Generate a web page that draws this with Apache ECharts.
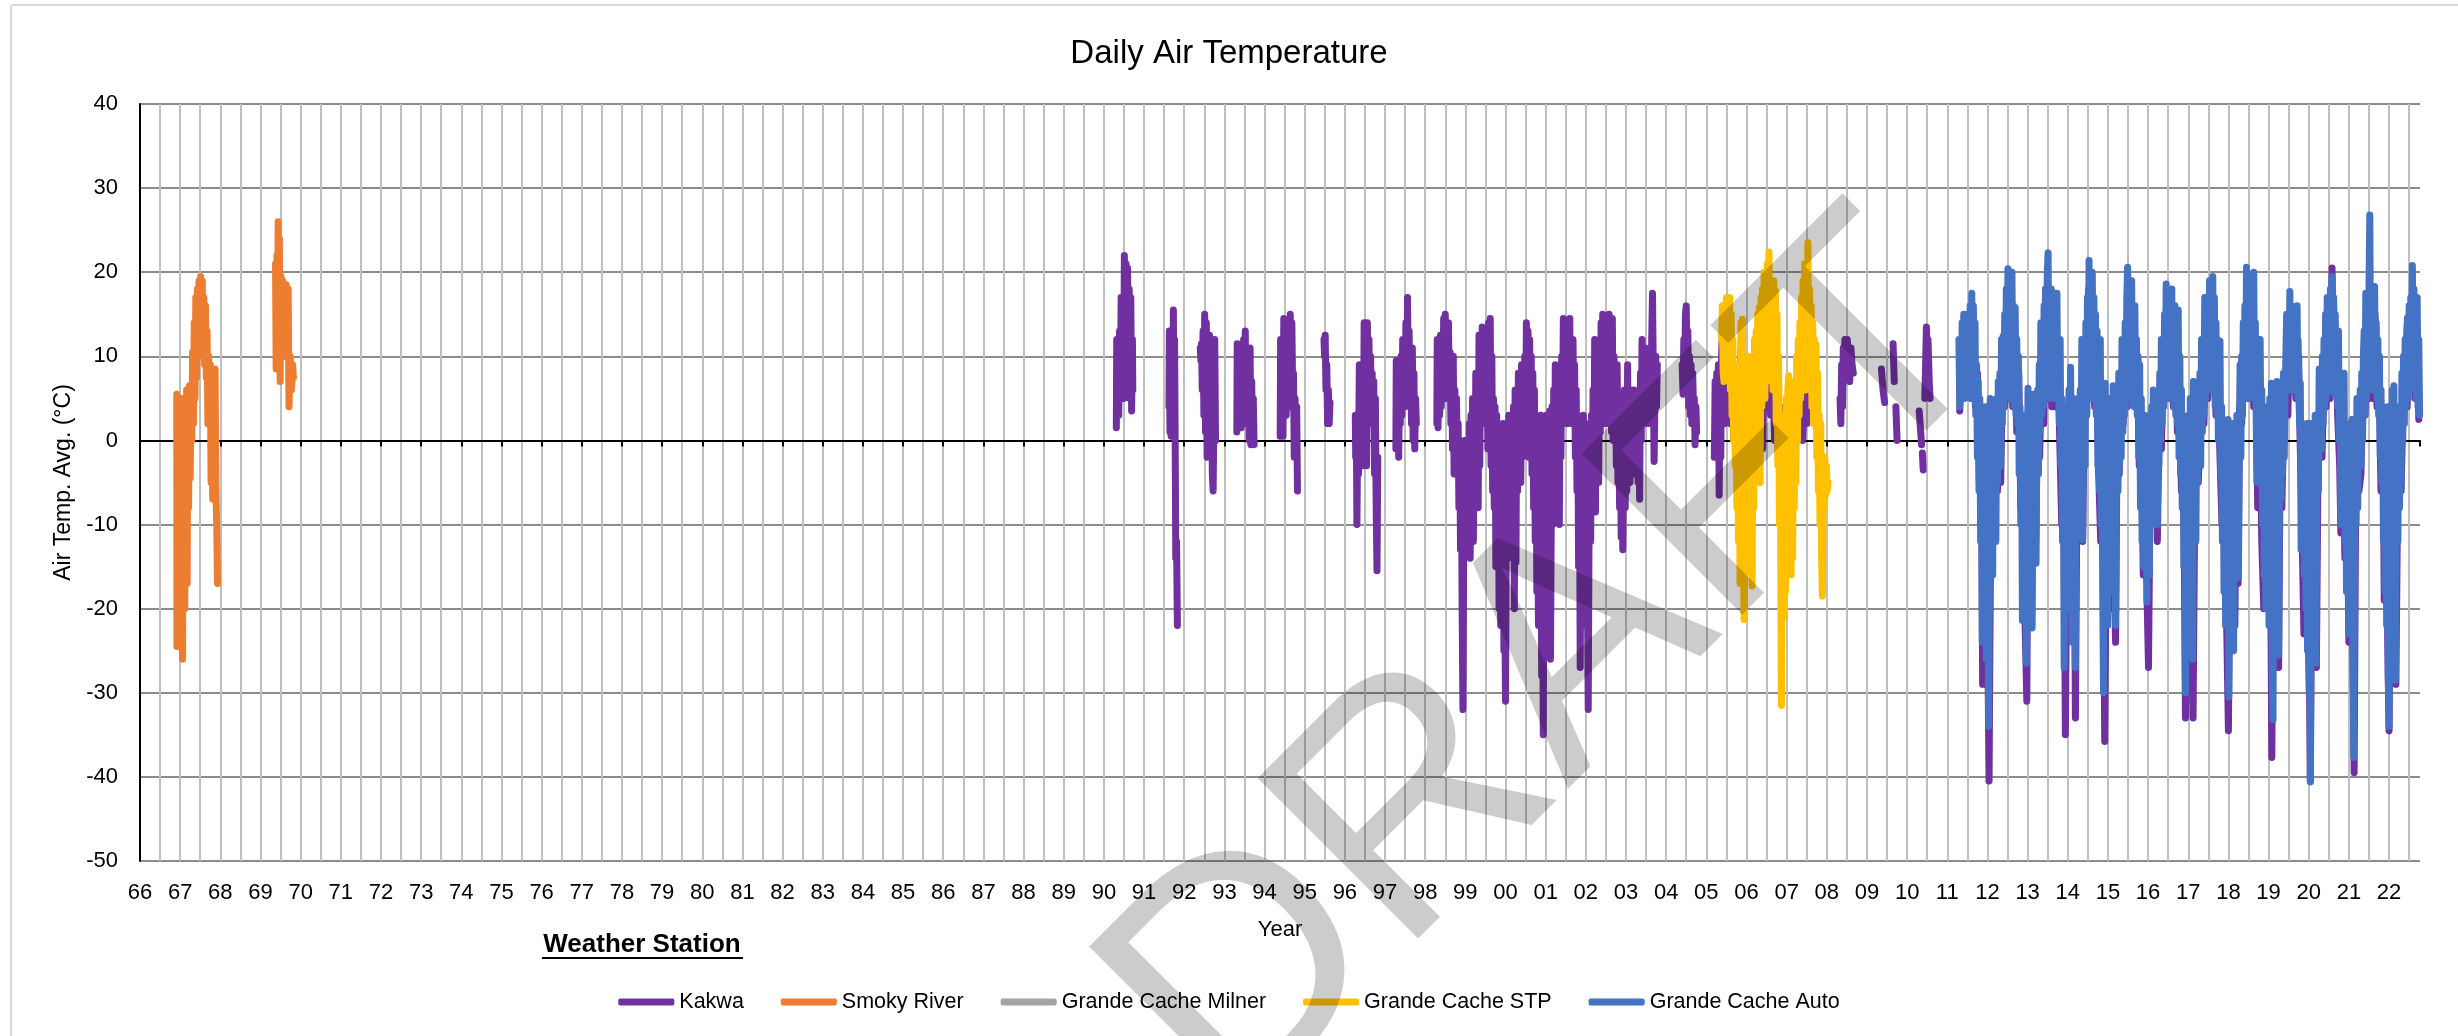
<!DOCTYPE html>
<html><head><meta charset="utf-8">
<script src="https://cdn.jsdelivr.net/npm/echarts@6.0.0/dist/echarts.min.js"></script>
<style>html,body{margin:0;padding:0;background:#fff}#c{width:2458px;height:1036px}</style>
</head><body><div id="c"></div>
<script>
// ---------------- DATA (decimal year, daily air temperature °C) ----------------
const stations = ['Kakwa', 'Smoky River', 'Grande Cache Milner', 'Grande Cache STP', 'Grande Cache Auto'];
const yearMin = 1966, yearMax = 2022.77;
const tempMin = -50, tempMax = 40, tempStep = 10;

const smokyRiver = [
[1966.915,5.5],[1966.92,-24.5],[1966.93,3],[1966.94,-18],[1966.95,5],[1966.96,-22],[1966.975,2],[1966.99,-14],[1967.0,4.5],[1967.02,-20],[1967.035,5],[1967.05,-24],[1967.06,-26],[1967.075,3],[1967.09,-15],[1967.1,5],[1967.115,-20],[1967.13,4],[1967.145,-10],[1967.16,6],[1967.175,-17],[1967.19,5],[1967.21,-8],[1967.23,6.5],[1967.25,-4.5],[1967.27,6],[1967.29,0],[1967.31,10.5],[1967.33,2],[1967.35,14],[1967.37,5],[1967.39,17],[1967.41,7.5],[1967.43,18],[1967.45,10],[1967.47,19],[1967.49,11],[1967.51,19.5],[1967.53,12],[1967.55,19],[1967.57,10],[1967.59,17],[1967.61,9],[1967.63,16],[1967.65,7.5],[1967.67,13],[1967.69,2],[1967.71,10],[1967.73,2],[1967.75,9],[1967.77,-5],[1967.79,6],[1967.81,-7],[1967.83,8],[1967.85,-3],[1967.87,8.5],[1967.89,-6],[1967.91,-10],[1967.93,-17],
[1968.5,'-'],
[1969.375,21],[1969.39,8.5],[1969.41,22],[1969.425,12],[1969.44,26],[1969.455,9],[1969.47,24],[1969.49,7],[1969.51,19.5],[1969.53,12],[1969.55,19],[1969.57,10],[1969.59,17],[1969.61,12],[1969.64,18.5],[1969.67,10],[1969.69,18],[1969.71,4],[1969.74,10],[1969.77,6],[1969.8,9],[1969.82,7.5]
];

const kakwa = [
[1990.31,1.5],[1990.32,12],[1990.335,4],[1990.35,11],[1990.37,3],[1990.39,13],[1990.41,5],[1990.43,17],[1990.45,6],[1990.47,15],[1990.49,5],[1990.51,22],[1990.53,7],[1990.55,21],[1990.57,6],[1990.59,20.5],[1990.61,8],[1990.63,18],[1990.65,5],[1990.67,17],[1990.69,3.5],[1990.71,12],[1990.72,6],
[1991,'-'],
[1991.62,4],[1991.63,13],[1991.645,1],[1991.66,12],[1991.675,0.5],[1991.69,9],[1991.71,2],[1991.73,15.5],[1991.745,4],[1991.76,12],[1991.775,0],[1991.79,-14],[1991.81,-12],[1991.83,-22],
[1992,'-'],
[1992.4,11],[1992.415,9.5],[1992.43,11.5],[1992.45,6],[1992.47,13],[1992.49,3],[1992.51,15],[1992.53,1],[1992.55,14],[1992.57,-2],[1992.59,12],[1992.61,0],[1992.63,12.5],[1992.66,-2],[1992.68,11],[1992.7,-4],[1992.72,-6],[1992.74,3],[1992.76,12],[1992.78,0],
[1993,'-'],
[1993.31,1],[1993.32,11.5],[1993.34,2],[1993.36,11],[1993.38,3],[1993.4,10],[1993.42,1.5],[1993.44,9],[1993.46,3],[1993.48,12],[1993.5,2],[1993.52,13],[1993.54,4],[1993.56,11],[1993.58,2],[1993.6,9],[1993.62,0],[1993.64,11],[1993.66,-0.5],[1993.68,7],[1993.7,1],[1993.72,5],[1993.74,-0.5],
[1994,'-'],
[1994.39,0.5],[1994.4,12],[1994.42,2],[1994.44,10],[1994.46,0.5],[1994.48,14.5],[1994.5,5],[1994.52,13],[1994.54,3],[1994.56,14],[1994.58,5],[1994.6,10],[1994.62,6],[1994.64,15],[1994.66,4],[1994.68,14],[1994.7,6],[1994.72,8],[1994.74,-2],[1994.76,5],[1994.78,-1],[1994.8,4],[1994.82,-6],
[1995,'-'],
[1995.48,12],[1995.495,10],[1995.51,12.5],[1995.53,6],[1995.55,9],[1995.57,2],[1995.59,6],[1995.61,2],[1995.63,4.5],
[1996,'-'],
[1996.26,3],[1996.27,-2],[1996.285,2],[1996.3,-10],[1996.32,1],[1996.34,-4],[1996.36,9],[1996.38,-2],[1996.4,6],[1996.42,0],[1996.44,9],[1996.46,-3],[1996.48,14],[1996.5,2],[1996.52,12],[1996.54,-3],[1996.56,14],[1996.58,4],[1996.6,12],[1996.62,2],[1996.64,10],[1996.66,3],[1996.68,8],[1996.7,2],[1996.72,7],[1996.74,-4],[1996.76,5],[1996.78,-8],[1996.8,-15.5],[1996.82,-2],
[1997,'-'],
[1997.27,-1],[1997.28,9.5],[1997.3,0],[1997.32,8],[1997.34,-2],[1997.36,6],[1997.38,2],[1997.4,10],[1997.42,3],[1997.44,12],[1997.46,5],[1997.48,11],[1997.5,4],[1997.52,14],[1997.54,5],[1997.56,17],[1997.58,6],[1997.6,13],[1997.62,4],[1997.64,9],[1997.66,2],[1997.68,11],[1997.7,0],[1997.72,8],[1997.74,-1],[1997.76,5],[1997.78,2],
[1998,'-'],
[1998.29,2],[1998.3,12],[1998.32,1.5],[1998.34,10],[1998.36,3],[1998.38,12.5],[1998.4,4],[1998.42,11],[1998.44,5],[1998.46,14.5],[1998.48,6],[1998.5,15],[1998.52,5],[1998.54,13],[1998.56,7],[1998.58,14],[1998.6,5],[1998.62,10.5],[1998.64,2],[1998.66,9],[1998.68,-1],[1998.7,10],[1998.72,-4],[1998.74,6],[1998.76,-2],[1998.78,5],[1998.8,-4],[1998.82,2],[1998.84,-8],[1998.86,0],[1998.88,-13],[1998.9,-2],[1998.92,-20],[1998.94,-32],[1998.96,-12],[1998.98,0],[1999.0,-10],[1999.02,-3],[1999.04,-13],[1999.06,-1],[1999.08,-9],[1999.1,2],[1999.12,-14],[1999.14,3],[1999.16,-10],[1999.18,5],[1999.2,-12],[1999.22,2],[1999.24,-8],[1999.26,8],[1999.28,-6],[1999.3,4],[1999.32,-8],[1999.34,12.5],[1999.36,-3],[1999.38,10],[1999.4,2],[1999.42,13.5],[1999.44,3],[1999.46,12],[1999.48,2],[1999.5,13],[1999.52,4],[1999.54,11],[1999.56,-1],[1999.58,14],[1999.6,1],[1999.62,14.5],[1999.64,-3],[1999.66,10],[1999.68,-6],[1999.7,5],[1999.72,-8],[1999.74,4],[1999.76,-15],[1999.78,3],[1999.8,-10],[1999.82,2],[1999.84,-20],[1999.86,-2],[1999.88,-22],[1999.9,0],[1999.92,-14],[1999.94,2],[1999.96,-25],[1999.98,-18],[2000.0,-31],[2000.02,-10],[2000.04,1],[2000.06,-14],[2000.08,3],[2000.1,-12],[2000.12,2],[2000.14,-8],[2000.16,3],[2000.18,-10],[2000.2,4],[2000.22,-20],[2000.24,6],[2000.26,-14.5],[2000.28,5],[2000.3,-6],[2000.32,8],[2000.34,-3],[2000.36,7],[2000.38,-5],[2000.4,9],[2000.42,-2],[2000.44,8],[2000.46,0],[2000.48,10],[2000.5,-1],[2000.52,14],[2000.54,2],[2000.56,13],[2000.58,-2],[2000.6,12],[2000.62,1],[2000.64,10],[2000.66,-4],[2000.68,8],[2000.7,-8],[2000.72,6],[2000.74,-12],[2000.76,3],[2000.78,-18],[2000.8,2],[2000.82,-22],[2000.84,0],[2000.86,-15],[2000.88,3],[2000.9,-28],[2000.92,-10],[2000.94,-35],[2000.96,-5],[2000.98,2],[2001.0,-20],[2001.02,3],[2001.04,-12],[2001.06,1],[2001.08,-18],[2001.1,3.5],[2001.12,-26],[2001.14,-8],[2001.16,4],[2001.18,-10],[2001.2,6],[2001.22,-6],[2001.24,9],[2001.26,-8],[2001.28,7],[2001.3,-4],[2001.32,8],[2001.34,-10],[2001.36,6],[2001.38,-2],[2001.4,10],[2001.42,2],[2001.44,14.5],[2001.46,3],[2001.48,12],[2001.5,4],[2001.52,14],[2001.54,2],[2001.56,13],[2001.58,5],[2001.6,14.5],[2001.62,3],[2001.64,11],[2001.66,2],[2001.68,12],[2001.7,4],[2001.72,9],[2001.74,-2],[2001.76,6],[2001.78,-6],[2001.8,3],[2001.82,-15],[2001.84,0],[2001.86,-27],[2001.88,-5],[2001.9,2],[2001.92,-20],[2001.94,3],[2001.96,-12],[2001.98,1],[2002.0,-22],[2002.02,-2],[2002.04,-18],[2002.06,-32],[2002.08,-10],[2002.1,2],[2002.12,-12],[2002.14,3],[2002.16,-8],[2002.18,6],[2002.2,-5],[2002.22,12],[2002.24,-8.5],[2002.26,10],[2002.28,-3],[2002.3,8],[2002.32,-5],[2002.34,12],[2002.36,1],[2002.38,14],[2002.4,3],[2002.42,15],[2002.44,2],[2002.46,12],[2002.48,4],[2002.5,14],[2002.52,2],[2002.54,13],[2002.56,5],[2002.58,15],[2002.6,3],[2002.62,12],[2002.64,1],[2002.66,14.5],[2002.68,0],[2002.7,10],[2002.72,2],[2002.74,8],[2002.76,-3],[2002.78,9],[2002.8,-5],[2002.82,5],[2002.84,-8],[2002.86,3],[2002.88,-11.5],[2002.9,0],[2002.92,-13],[2002.94,-2],[2002.96,6],[2002.98,-8],[2003.0,4],[2003.02,-6],[2003.04,9],[2003.06,-3],[2003.08,5],[2003.1,-5],[2003.12,6],[2003.14,-2],[2003.16,4],[2003.18,-4],[2003.2,6],[2003.22,0],[2003.24,5],[2003.26,-3],[2003.28,4],[2003.3,-5],[2003.32,2],[2003.34,-7],[2003.36,8],[2003.38,0],[2003.4,12],[2003.42,2],[2003.44,11],[2003.46,3],[2003.48,11],[2003.5,4],[2003.52,8],[2003.54,2],[2003.56,10],[2003.58,3],[2003.6,9],[2003.62,4],[2003.64,12],[2003.66,17.5],[2003.68,8],[2003.7,-2.5],[2003.72,5],[2003.74,10],[2003.76,4],[2003.78,9],
[2004,'-'],
[2004.4,9],[2004.42,5.5],[2004.44,12],[2004.46,6],[2004.48,15],[2004.5,16],[2004.52,8],[2004.54,13],[2004.56,4],[2004.58,10],[2004.6,3],[2004.62,9],[2004.64,2],[2004.66,8],[2004.68,4],[2004.7,5],[2004.72,-0.5],[2004.74,4],[2004.76,1],
[2005,'-'],
[2005.2,-2],[2005.22,7],[2005.24,-1],[2005.26,8],[2005.28,0],[2005.3,9],[2005.32,-6.5],[2005.34,4],[2005.36,-2],[2005.38,10],[2005.4,13],[2005.42,5],[2005.44,9],[2005.46,2],[2005.48,8],[2005.52,3],[2005.56,10],[2005.6,2],[2005.64,11],[2005.68,0],[2005.72,8],[2005.76,-2],[2005.8,6],[2005.84,-4],[2005.86,11],[2005.9,-5],[2005.95,4],[2006.0,-8],[2006.05,3],[2006.1,-6],[2006.15,5],[2006.2,-3],[2006.25,8],[2006.3,2],[2006.36,12],[2006.4,-1],[2006.45,10],[2006.5,4],[2006.55,12],[2006.6,3],[2006.65,10],[2006.7,0],[2006.75,6],[2006.8,-3],[2006.85,4],[2006.9,-5],[2006.95,2],[2007.0,-4],[2007.05,3],[2007.1,-2],[2007.15,4],[2007.2,-1],[2007.25,6],[2007.3,1],[2007.35,7],[2007.4,0],[2007.45,6],[2007.5,2],[2007.55,8],[2007.6,3],[2007.63,8],
[2008,'-'],
[2008.33,5],[2008.35,2],[2008.37,9],[2008.39,4],[2008.41,11],[2008.43,8],[2008.45,12],[2008.48,9],[2008.51,12],[2008.54,10],[2008.57,7],[2008.6,11],[2008.63,9],[2008.66,8],
[2009,'-'],
[2009.36,8.5],[2009.4,6],[2009.44,4.5],
[2009.5,'-'],
[2009.65,11.5],[2009.68,7],
[2009.7,'-'],
[2009.72,4],[2009.75,0],
[2010,'-'],
[2010.3,3.5],[2010.33,1.5],[2010.36,-0.5],
[2010.37,'-'],
[2010.38,-1.5],[2010.4,-3.5],
[2010.42,'-'],
[2010.44,5],[2010.46,9],[2010.48,13.5],[2010.5,10],[2010.52,12],[2010.55,7],[2010.57,5],
[2011,'-'],
[2011.31,3.5],[2011.35,10],[2011.4,5],[2011.45,14],[2011.5,6],[2011.55,15],[2011.6,5],[2011.65,14],[2011.7,4],[2011.75,8],[2011.8,-5],[2011.85,3],[2011.88,-29],[2011.92,-3],[2011.96,2],[2012.0,-20],[2012.04,-40.5],[2012.08,-10],[2012.12,2],[2012.16,-12],[2012.2,3],[2012.25,-6],[2012.3,6],[2012.33,-5],[2012.38,10],[2012.43,4],[2012.48,17],[2012.53,5],[2012.58,18],[2012.63,4],[2012.68,14],[2012.73,1],[2012.78,8],[2012.83,-8],[2012.88,2],[2012.92,-18],[2012.98,-31],[2013.02,4],[2013.06,-15],[2013.1,-22],[2013.15,4],[2013.2,-12],[2013.25,3],[2013.3,-2],[2013.35,12],[2013.4,2],[2013.45,18],[2013.5,5],[2013.55,16],[2013.6,4],[2013.65,15],[2013.7,4],[2013.75,12],[2013.8,0],[2013.85,-10],[2013.9,0],[2013.94,-35],[2013.98,-10],[2014.02,4],[2014.06,-20],[2014.1,-12],[2014.15,2],[2014.19,-33],[2014.23,-5],[2014.27,3],[2014.32,-6],[2014.37,-12],[2014.42,8],[2014.47,3],[2014.52,18],[2014.57,5],[2014.62,17],[2014.67,4],[2014.72,10],[2014.77,-4],[2014.82,-12],[2014.87,0],[2014.92,-35.8],[2014.96,-10],[2015.0,3],[2015.05,-20],[2015.1,2],[2015.15,-15],[2015.19,-24],[2015.23,2],[2015.28,-4],[2015.33,8],[2015.38,2],[2015.43,12],[2015.48,4],[2015.53,17],[2015.58,5],[2015.63,15],[2015.68,4],[2015.73,10],[2015.78,-3],[2015.83,2],[2015.88,-16],[2015.93,0],[2015.98,-20],[2016.01,-27],[2016.05,-5],[2016.1,2],[2016.15,-8],[2016.2,2],[2016.23,-12],[2016.28,3],[2016.33,-1],[2016.38,10],[2016.43,5],[2016.48,15],[2016.53,5],[2016.58,16],[2016.63,4],[2016.68,13],[2016.73,1],[2016.78,6],[2016.83,-6],[2016.88,2],[2016.93,-33],[2016.97,-5],[2017.02,2],[2017.07,-20],[2017.12,-33],[2017.16,-8],[2017.2,2],[2017.25,-5],[2017.29,-5],[2017.34,8],[2017.39,2],[2017.44,14],[2017.49,5],[2017.54,16],[2017.59,6],[2017.64,15],[2017.69,3],[2017.74,8],[2017.79,-2],[2017.84,-10],[2017.9,0],[2017.95,-20],[2018.0,-34.5],[2018.04,-8],[2018.08,-20],[2018.12,0],[2018.16,-22],[2018.2,1],[2018.24,-17],[2018.28,4],[2018.33,2],[2018.38,12],[2018.43,5],[2018.48,17],[2018.53,5],[2018.58,16],[2018.63,4],[2018.68,10],[2018.73,-8],[2018.78,6],[2018.83,-12],[2018.88,-20],[2018.93,0],[2018.98,-15],[2019.03,2],[2019.08,-37.7],[2019.12,-12],[2019.17,2],[2019.21,-22],[2019.25,-27],[2019.29,0],[2019.33,-8],[2019.38,4],[2019.43,8],[2019.48,3],[2019.53,15],[2019.58,6],[2019.63,13],[2019.68,5],[2019.73,12],[2019.78,1],[2019.83,-10],[2019.88,-23],[2019.92,-2],[2019.97,-20],[2020.02,-30],[2020.04,-40.5],[2020.08,-10],[2020.12,0],[2020.16,-15],[2020.19,-27],[2020.23,-3],[2020.28,2],[2020.33,-2],[2020.38,8],[2020.43,4],[2020.48,15],[2020.53,5],[2020.58,20.5],[2020.62,6],[2020.67,13],[2020.72,3],[2020.77,-3],[2020.8,-11],[2020.85,2],[2020.9,-14],[2020.95,-5],[2021.0,-24],[2021.05,0],[2021.09,-18],[2021.13,-39.5],[2021.17,-5],[2021.21,2],[2021.25,-6],[2021.3,-4],[2021.35,8],[2021.4,3],[2021.45,14],[2021.5,5],[2021.55,15],[2021.6,5],[2021.65,15],[2021.7,4],[2021.75,8],[2021.8,-6],[2021.85,2],[2021.88,-19],[2021.93,-5],[2021.97,-25],[2022.0,-34.5],[2022.04,-5],[2022.09,-18],[2022.13,2],[2022.17,-29],[2022.21,-8],[2022.26,2],[2022.3,-6],[2022.35,5],[2022.4,8],[2022.45,4],[2022.5,13],[2022.55,6],[2022.6,15],[2022.65,5],[2022.7,12],[2022.74,2.5]
];

const grandeCacheMilner = [];

const grandeCacheSTP = [
[2005.38,12],[2005.4,16],[2005.42,8],[2005.44,7],[2005.46,15],[2005.48,10],[2005.5,17],[2005.52,12],[2005.54,17],[2005.56,9],[2005.58,17],[2005.6,6],[2005.62,15],[2005.64,3],[2005.66,12],[2005.68,0],[2005.7,9],[2005.72,-3],[2005.74,6],[2005.76,-8],[2005.78,6],[2005.8,-12],[2005.82,3],[2005.84,-17],[2005.86,14],[2005.88,-5],[2005.9,14.4],[2005.92,-10],[2005.94,-21.3],[2005.96,2],[2005.98,-12],[2006.0,5],[2006.02,-15.7],[2006.04,10],[2006.06,-6],[2006.08,8],[2006.1,-10],[2006.12,4],[2006.14,-17.3],[2006.16,2],[2006.18,-8],[2006.2,12],[2006.22,-3],[2006.24,13],[2006.26,0],[2006.28,15],[2006.3,4],[2006.32,15.8],[2006.34,-5],[2006.36,17],[2006.38,4],[2006.4,18],[2006.42,6],[2006.44,20],[2006.46,5],[2006.48,19],[2006.5,7],[2006.52,21],[2006.54,8],[2006.56,22.4],[2006.58,9],[2006.6,19],[2006.62,8],[2006.64,18],[2006.66,6],[2006.68,19],[2006.7,8],[2006.72,17.8],[2006.74,2],[2006.76,15],[2006.78,-3],[2006.8,10],[2006.82,-10],[2006.84,3],[2006.86,-21],[2006.87,-31.5],[2006.89,-8],[2006.91,3],[2006.93,-21],[2006.95,0],[2006.97,-18],[2006.99,5],[2007.01,-12],[2007.03,6],[2007.05,7.7],[2007.07,-10],[2007.09,2],[2007.11,-16],[2007.13,4],[2007.15,-14],[2007.17,7],[2007.19,-8],[2007.21,4],[2007.23,-5],[2007.25,10],[2007.27,0],[2007.29,12],[2007.31,3],[2007.33,14],[2007.35,5],[2007.37,17],[2007.39,6],[2007.41,19],[2007.43,7],[2007.45,21],[2007.47,6],[2007.49,19],[2007.51,9],[2007.53,23.5],[2007.55,10],[2007.57,18],[2007.59,6],[2007.61,16],[2007.63,4],[2007.65,14],[2007.67,2],[2007.69,12],[2007.71,3],[2007.73,11.4],[2007.75,-2],[2007.77,8],[2007.79,-6],[2007.81,3],[2007.83,-10],[2007.85,2],[2007.87,-14],[2007.89,-18.5],[2007.91,-4],[2007.93,-8],[2007.95,-2],[2007.97,-6.5],[2007.99,-3],[2008.01,-6],[2008.03,-5]
];

const grandeCacheAuto = [
[2011.29,12],[2011.31,4],[2011.33,11],[2011.35,5],[2011.37,14],[2011.39,6],[2011.41,15],[2011.43,5],[2011.45,13],[2011.47,7],[2011.49,15],[2011.51,6],[2011.53,14],[2011.55,7],[2011.57,16],[2011.59,5],[2011.61,17.5],[2011.63,8],[2011.65,16],[2011.67,5],[2011.69,14],[2011.71,3],[2011.73,9],[2011.75,-2],[2011.77,7],[2011.79,-6],[2011.81,5],[2011.83,-12],[2011.85,2],[2011.87,-24],[2011.89,-5],[2011.91,3],[2011.93,-18],[2011.95,4],[2011.97,-26],[2011.99,-8],[2012.01,2],[2012.03,-34],[2012.05,-15],[2012.07,5],[2012.09,-12],[2012.11,3],[2012.13,-16],[2012.15,2],[2012.17,-8],[2012.19,4],[2012.21,-12],[2012.23,5],[2012.25,-5],[2012.27,7],[2012.29,-3],[2012.31,8],[2012.33,-3],
[2012.35,12],[2012.37,2],[2012.39,12.4],[2012.41,4],[2012.43,15],[2012.45,5],[2012.47,18],[2012.49,6],[2012.51,20.4],[2012.53,7],[2012.55,19],[2012.57,5],[2012.59,18],[2012.61,20],[2012.63,6],[2012.65,16],[2012.67,4],[2012.69,15.8],[2012.71,3],[2012.73,12],[2012.75,2],[2012.77,10],[2012.79,-4],[2012.81,4],[2012.83,-10],[2012.85,2],[2012.87,-21.4],[2012.89,-3],[2012.91,3],[2012.93,-15],[2012.95,1],[2012.97,-26.5],[2012.99,-8],[2013.01,6.2],[2013.03,-12],[2013.05,3],[2013.07,-18],[2013.09,4],[2013.11,-22.3],[2013.13,-5],[2013.15,5.5],[2013.17,-8],[2013.19,3],[2013.21,-14.6],[2013.23,0],[2013.25,6],[2013.27,-4],[2013.29,9],
[2013.31,1],[2013.33,14],[2013.35,3],[2013.37,12],[2013.39,4],[2013.41,16],[2013.43,5],[2013.45,18],[2013.47,6],[2013.49,20],[2013.51,22.3],[2013.53,7],[2013.55,17],[2013.57,5],[2013.59,18],[2013.61,6],[2013.63,15],[2013.65,5],[2013.67,16],[2013.69,7],[2013.71,14],[2013.73,17.5],[2013.75,5],[2013.77,10],[2013.79,2],[2013.81,12],[2013.83,-3],[2013.85,5],[2013.87,-12],[2013.89,-3],[2013.91,-27],[2013.93,-10],[2013.95,2],[2013.97,-18],[2013.99,4],[2014.01,-20],[2014.03,6],[2014.05,-12],[2014.07,8.7],[2014.09,-8],[2014.11,-24],[2014.13,-2],[2014.15,5],[2014.17,-15],[2014.19,-27],[2014.21,2],[2014.23,-10],[2014.25,3],[2014.27,5],[2014.29,-8],
[2014.31,6],[2014.33,-4],[2014.35,12],[2014.37,-11.8],[2014.39,2],[2014.41,10],[2014.43,-3],[2014.45,14],[2014.47,3],[2014.49,17],[2014.51,5],[2014.53,21.4],[2014.55,6],[2014.57,18],[2014.59,5],[2014.61,20],[2014.63,6],[2014.65,17],[2014.67,5],[2014.69,15],[2014.71,3],[2014.73,13],[2014.75,-3],[2014.77,9],[2014.79,-6],[2014.81,12],[2014.83,-10],[2014.85,3],[2014.87,-18],[2014.89,-30],[2014.91,-5],[2014.93,6.8],[2014.95,-15],[2014.97,2],[2014.99,-22],[2015.01,4],[2015.03,-12],[2015.05,5],[2015.07,-18],[2015.09,3],[2015.11,-10],[2015.13,6.5],[2015.15,-8],[2015.17,2],[2015.19,-22],[2015.21,-5],[2015.23,4],[2015.25,-6],[2015.27,8],[2015.29,-3],
[2015.31,6],[2015.33,-2],[2015.35,12],[2015.37,1],[2015.39,10],[2015.41,3],[2015.43,14],[2015.45,4],[2015.47,17],[2015.49,20.6],[2015.51,6],[2015.53,18],[2015.55,5],[2015.57,17],[2015.59,19],[2015.61,6],[2015.63,15],[2015.65,4],[2015.67,16],[2015.69,5],[2015.71,12],[2015.73,3],[2015.75,10],[2015.77,-2],[2015.79,9],[2015.81,-8],[2015.83,5],[2015.85,-12],[2015.87,2],[2015.89,-15],[2015.91,3],[2015.93,-10],[2015.95,1],[2015.97,-19.2],[2015.99,-6],[2016.01,2],[2016.03,-16],[2016.05,3],[2016.07,-10],[2016.09,4],[2016.11,-6],[2016.13,6],[2016.15,-8],[2016.17,3],[2016.19,-5],[2016.21,4],[2016.23,-10],[2016.25,2],[2016.27,-3],[2016.29,8],
[2016.31,0],[2016.33,12],[2016.35,2],[2016.37,10],[2016.39,4],[2016.41,15],[2016.43,5],[2016.45,18.6],[2016.47,6],[2016.49,16],[2016.51,5],[2016.53,17],[2016.55,6],[2016.57,15],[2016.59,18],[2016.61,5],[2016.63,14],[2016.65,4],[2016.67,16],[2016.69,3],[2016.71,13],[2016.73,2],[2016.75,15.5],[2016.77,-2],[2016.79,10],[2016.81,-4],[2016.83,6],[2016.85,-8],[2016.87,3],[2016.89,-15],[2016.91,0],[2016.93,-30],[2016.95,-12],[2016.97,2],[2016.99,-20],[2017.01,3],[2017.03,-15],[2017.05,5],[2017.07,-22],[2017.09,0],[2017.11,-26],[2017.13,7],[2017.15,-10],[2017.17,2],[2017.19,-12],[2017.21,3],[2017.23,-5],[2017.25,6],[2017.27,-3],[2017.29,8],
[2017.31,-3],[2017.33,12],[2017.35,1],[2017.37,10],[2017.39,3],[2017.41,17],[2017.43,5],[2017.45,15],[2017.47,6],[2017.49,17],[2017.51,7],[2017.53,19],[2017.55,6],[2017.57,16],[2017.59,8],[2017.61,19.5],[2017.63,6],[2017.65,17],[2017.67,4],[2017.69,14],[2017.71,3],[2017.73,12],[2017.75,0],[2017.77,10],[2017.79,11.8],[2017.81,-4],[2017.83,4],[2017.85,-12],[2017.87,1],[2017.89,-18],[2017.91,2],[2017.93,-22],[2017.95,0],[2017.97,-15],[2017.99,2.5],[2018.01,-30.5],[2018.03,-12],[2018.05,1],[2018.07,-20],[2018.09,2],[2018.11,-15],[2018.13,-25],[2018.15,-3],[2018.17,2],[2018.19,-10],[2018.21,3],[2018.23,-8],[2018.25,-16.3],[2018.27,0],[2018.29,9],
[2018.31,-2],[2018.33,10],[2018.35,3],[2018.37,14],[2018.39,5],[2018.41,16],[2018.43,6],[2018.45,20.6],[2018.47,7],[2018.49,18],[2018.51,5],[2018.53,17],[2018.55,7],[2018.57,19],[2018.59,6],[2018.61,17],[2018.63,20],[2018.65,5],[2018.67,14],[2018.69,3],[2018.71,-5],[2018.73,9],[2018.75,2],[2018.77,10],[2018.79,12],[2018.81,-2],[2018.83,6],[2018.85,-10],[2018.87,3],[2018.89,-16],[2018.91,2],[2018.93,-20],[2018.95,4],[2018.97,-14],[2018.99,3],[2019.01,-22],[2019.03,5],[2019.05,-18],[2019.07,6.8],[2019.09,-28],[2019.11,-33.2],[2019.13,-10],[2019.15,4],[2019.17,-20],[2019.19,3],[2019.21,7],[2019.23,-12],[2019.25,-25.5],[2019.27,-5],[2019.29,3],
[2019.31,-7],[2019.33,5],[2019.35,-4],[2019.37,8],[2019.39,-2],[2019.41,5.6],[2019.43,10],[2019.45,15],[2019.47,6],[2019.49,14],[2019.51,7],[2019.53,17.7],[2019.55,6],[2019.57,16],[2019.59,8],[2019.61,15],[2019.63,6],[2019.65,14],[2019.67,7],[2019.69,13],[2019.71,16],[2019.73,5],[2019.75,10],[2019.77,2],[2019.79,6.8],[2019.81,-13],[2019.83,2],[2019.85,-8],[2019.87,0],[2019.89,-16],[2019.91,1],[2019.93,-20],[2019.95,2],[2019.97,-25],[2019.99,0],[2020.01,-30],[2020.03,2],[2020.04,-40.6],[2020.06,-15],[2020.08,1],[2020.1,-20],[2020.12,2],[2020.14,-12],[2020.16,3],[2020.18,-26.5],[2020.2,-8],[2020.22,2],[2020.24,-6],[2020.26,8.5],[2020.28,-1],
[2020.3,6],[2020.32,-1],[2020.34,10],[2020.36,2],[2020.38,12],[2020.4,4],[2020.42,15],[2020.44,5],[2020.46,17],[2020.48,6],[2020.5,16],[2020.52,7],[2020.54,18],[2020.56,6],[2020.58,19.5],[2020.6,8],[2020.62,17],[2020.64,5.5],[2020.66,15],[2020.68,6],[2020.7,13],[2020.72,4],[2020.74,13],[2020.76,0],[2020.78,8],[2020.8,-10],[2020.82,3],[2020.84,-6],[2020.86,5],[2020.88,8],[2020.9,-12],[2020.92,2],[2020.94,-18],[2020.96,0],[2020.98,-15],[2021.0,-23],[2021.02,0],[2021.04,-12],[2021.06,2],[2021.08,2.5],[2021.1,-25],[2021.12,-37.7],[2021.14,-15],[2021.16,2],[2021.18,-10],[2021.2,5],[2021.22,-8],[2021.24,3],[2021.26,-3],[2021.28,6],
[2021.3,-3],[2021.32,8],[2021.34,0],[2021.36,10],[2021.38,13],[2021.4,3],[2021.42,17.5],[2021.44,5],[2021.46,15],[2021.48,6],[2021.5,18],[2021.52,26.8],[2021.54,8],[2021.56,16],[2021.58,6],[2021.6,17],[2021.62,7],[2021.64,18.3],[2021.66,6],[2021.68,14],[2021.7,5],[2021.72,12],[2021.74,3],[2021.76,10],[2021.78,-2],[2021.8,6],[2021.82,-5],[2021.84,4],[2021.86,-12],[2021.88,2],[2021.9,-18],[2021.92,3],[2021.94,-22],[2021.96,4],[2021.98,-28],[2022.0,-34],[2022.02,-10],[2022.04,4],[2022.06,-20],[2022.08,6],[2022.1,-15],[2022.12,6.5],[2022.14,-21],[2022.16,-28.5],[2022.18,-5],[2022.2,3],[2022.22,-12],[2022.24,4],[2022.26,-8],[2022.28,2],
[2022.3,-5],[2022.32,8],[2022.34,0],[2022.36,10],[2022.38,2],[2022.4,12],[2022.42,4],[2022.44,13],[2022.46,14.6],[2022.48,5],[2022.5,16],[2022.52,6],[2022.54,17],[2022.56,7],[2022.58,20.8],[2022.6,8],[2022.62,18],[2022.64,6],[2022.66,16],[2022.68,5],[2022.7,17],[2022.72,4],[2022.74,12],[2022.76,3]
];

// ---------------- CHART ----------------
const FONT = '"Liberation Sans", Arial, sans-serif';
const colors = ['#7030A0', '#ED7D31', '#A5A5A5', '#FFC000', '#4472C4'];
const seriesData = [kakwa, smokyRiver, grandeCacheMilner, grandeCacheSTP, grandeCacheAuto];

const chart = echarts.init(document.getElementById('c'), null, {renderer: 'canvas', width: 2458, height: 1036});

const yearLabel = v => {
  const r = Math.round(v);
  if (Math.abs(v - r) > 1e-6) return '';
  return String(r % 100).padStart(2, '0');
};

chart.setOption({
  animation: false,
  backgroundColor: '#ffffff',
  title: {
    text: 'Daily Air Temperature', left: 'center', top: 32,
    textStyle: {fontFamily: FONT, fontSize: 33, fontWeight: 'normal', color: '#000'}
  },
  grid: {left: 140, right: 38, top: 104, bottom: 175, containLabel: false},
  legend: {
    data: stations, left: 'center', top: 991, padding: 0,
    itemWidth: 56, itemHeight: 7, itemGap: 37, icon: 'roundRect',
    textStyle: {fontFamily: FONT, fontSize: 21.5, color: '#000'}
  },
  xAxis: [
    {
      type: 'value', min: yearMin, max: yearMax, interval: 0.5, position: 'bottom',
      name: 'Year', nameLocation: 'middle', nameGap: 58,
      nameTextStyle: {fontFamily: FONT, fontSize: 22, color: '#000'},
      axisLine: {show: false, onZero: false}, axisTick: {show: false},
      axisLabel: {formatter: yearLabel, fontFamily: FONT, fontSize: 22, color: '#000', margin: 21},
      splitLine: {show: true, showMaxLine: false, lineStyle: {color: '#BFBFBF', width: 2}}
    },
    {
      type: 'value', min: yearMin, max: yearMax, interval: 1, position: 'top',
      axisLine: {show: true, onZero: true, lineStyle: {color: '#000', width: 2}},
      axisTick: {show: true, inside: true, length: 6, lineStyle: {color: '#000', width: 2}},
      axisLabel: {show: false}, splitLine: {show: false}
    }
  ],
  yAxis: {
    type: 'value', min: tempMin, max: tempMax, interval: tempStep,
    name: 'Air Temp. Avg. (°C)', nameLocation: 'middle', nameGap: 64, nameRotate: 90,
    nameTextStyle: {fontFamily: FONT, fontSize: 23, color: '#000'},
    axisLine: {show: true, onZero: false, lineStyle: {color: '#000', width: 2}},
    axisTick: {show: false},
    axisLabel: {fontFamily: FONT, fontSize: 22, color: '#000', margin: 22},
    splitLine: {show: true, lineStyle: {color: '#8C8C8C', width: 2}}
  },
  series: stations.map((name, i) => ({
    name, type: 'line', data: seriesData[i], xAxisIndex: 0, yAxisIndex: 0,
    showSymbol: false, symbol: 'none', connectNulls: false,
    lineStyle: {color: colors[i], width: 7, cap: 'round', join: 'round'},
    itemStyle: {color: colors[i]}
  })),
  graphic: [
    {type: 'line', shape: {x1: 11, y1: 5, x2: 2458, y2: 5}, style: {stroke: '#D9D9D9', lineWidth: 2}, silent: true},
    {type: 'line', shape: {x1: 11, y1: 5, x2: 11, y2: 1036}, style: {stroke: '#D9D9D9', lineWidth: 2}, silent: true},
    {type: 'text', x: 642, y: 945, silent: true,
     style: {text: 'Weather Station', font: 'bold 26px "Liberation Sans"', fill: '#000',
             textAlign: 'center', textVerticalAlign: 'middle', align: 'center', verticalAlign: 'middle'}},
    {type: 'line', shape: {x1: 542, y1: 958, x2: 743, y2: 958}, style: {stroke: '#000', lineWidth: 2}, silent: true},
    {type: 'text', x: 1555, y: 673, rotation: Math.PI / 4, z: 100, silent: true,
     style: {text: 'DRAFT', font: '330px "Liberation Sans"', fill: 'rgba(0,0,0,0.2)',
             textAlign: 'center', textVerticalAlign: 'middle', align: 'center', verticalAlign: 'middle'}}
  ]
});
</script></body></html>
